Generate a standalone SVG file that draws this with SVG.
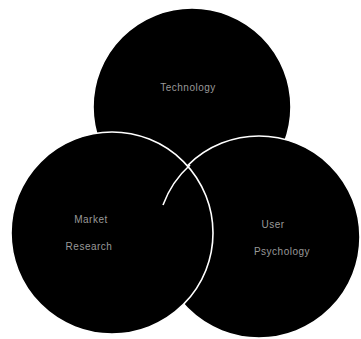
<svg xmlns="http://www.w3.org/2000/svg" width="361" height="339" viewBox="0 0 361 339">
<style>
.c{fill:#000;stroke:#fff;stroke-width:1.6}
.t{fill:#999;font-family:"Liberation Sans",Arial,sans-serif;font-size:10px;text-anchor:middle;letter-spacing:0.5px}
</style>
<rect width="361" height="339" fill="#fff"/>
<g id="top">
<circle class="c" cx="192" cy="107" r="99" stroke="none"/>
<text class="t" x="188" y="91">Technology</text>
</g>
<g id="right">
<circle class="c" cx="259" cy="237" r="101"/>
<text class="t" x="273" y="228">User</text>
<text class="t" x="282" y="255">Psychology</text>
</g>
<g id="left">
<circle class="c" cx="112" cy="233" r="101"/>
<text class="t" x="91" y="223">Market</text>
<text class="t" x="89" y="250">Research</text>
</g>
<g id="connectors">
<path d="M190 165 A101 101 0 0 0 163 205" fill="none" stroke="#fff" stroke-width="1.6"/>
</g>
</svg>
